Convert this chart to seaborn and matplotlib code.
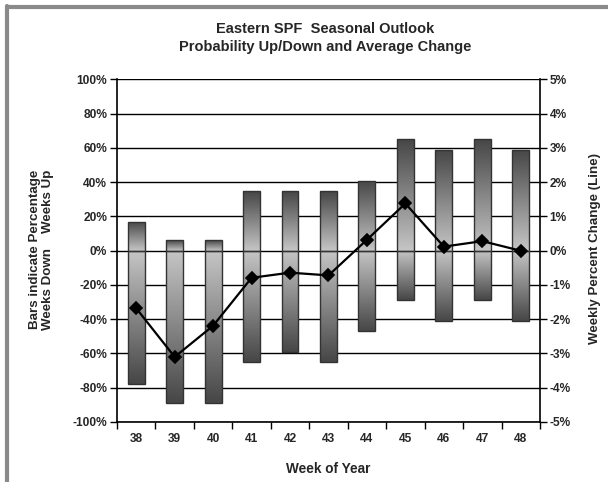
import numpy as np
import pandas as pd
import matplotlib
matplotlib.use("Agg")
import matplotlib.pyplot as plt
from matplotlib.colors import LinearSegmentedColormap
from matplotlib.lines import Line2D
import seaborn as sns

# Seasonal outlook data by week of year
weeks = ["38", "39", "40", "41", "42", "43", "44", "45", "46", "47", "48"]
pct_up = [17, 6, 6, 35, 35, 35, 41, 65, 59, 65, 59]          # % of years the week closed up
pct_down = [78, 89, 89, 65, 59, 65, 47, 29, 41, 29, 41]      # % of years the week closed down
avg_change = [-1.68, -3.10, -2.19, -0.79, -0.64, -0.72, 0.32, 1.38, 0.12, 0.28, 0.0]  # avg weekly % change

left_ticks = [-100, -80, -60, -40, -20, 0, 20, 40, 60, 80, 100]
right_ticks = [-5, -4, -3, -2, -1, 0, 1, 2, 3, 4, 5]

sns.set_theme(style="white")
plt.rcParams["font.family"] = ["Liberation Sans", "DejaVu Sans"]
plt.rcParams["font.weight"] = "bold"

df = pd.DataFrame({"week": weeks, "up": pct_up,
                   "down": [-v for v in pct_down], "chg": avg_change})

fig = plt.figure(figsize=(6.08, 4.82), dpi=100)
ax = fig.add_axes([0.1924, 0.1245, 0.6957, 0.7106])
ax.set_facecolor("white")

# horizontal grid behind bars
for t in left_ticks:
    ax.axhline(t, color="black", lw=1.0, zorder=0)

sns.barplot(data=df, x="week", y="up", ax=ax, width=0.44, color="gray",
            edgecolor="#333333", linewidth=1.0, zorder=2)
sns.barplot(data=df, x="week", y="down", ax=ax, width=0.44, color="gray",
            edgecolor="#333333", linewidth=1.0, zorder=2)

# gradient fill: dark at the bar ends, light at the zero line
dark, light = "#464646", "#c6c6c6"
cmap = LinearSegmentedColormap.from_list("bar", [dark, light])
grad = np.linspace(0, 1, 256).reshape(-1, 1)
for p in ax.patches:
    x0, y0 = p.get_x(), p.get_y()
    w, h = p.get_width(), p.get_height()
    ylo, yhi = min(y0, y0 + h), max(y0, y0 + h)
    if yhi > 0:   # up bar: dark at top -> light at zero
        img = grad
    else:         # down bar: light at zero -> dark at bottom
        img = grad[::-1]
    im = ax.imshow(img, cmap=cmap, aspect="auto", origin="upper",
                   extent=(x0, x0 + w, ylo, yhi), zorder=1.9, vmin=0, vmax=1)
    im.set_clip_path(p)
    p.set_facecolor("none")

ax.set_xlim(-0.5, len(weeks) - 0.5)
ax.set_ylim(-100, 100)
ax.set_yticks(left_ticks)
ax.set_yticklabels([f"{t}%" for t in left_ticks])

# category boundary ticks on the x axis
ax.set_xticks(np.arange(-0.5, len(weeks), 1.0), minor=True)
ax.tick_params(axis="x", which="major", length=0, pad=8, labelsize=8.6)
ax.tick_params(axis="x", which="minor", length=5, width=1, color="black", direction="out", bottom=True)
ax.tick_params(axis="y", length=5, width=1, color="black", direction="out", left=True, labelsize=8.6, pad=2)

for s in ["left", "bottom", "right"]:
    ax.spines[s].set_visible(True)
    ax.spines[s].set_color("black")
    ax.spines[s].set_linewidth(1.2)
ax.spines["top"].set_visible(False)

ax.set_xlabel("Week of Year", fontsize=9.8, fontweight="bold", labelpad=12)
ax.set_ylabel("")

# secondary axis: average weekly percent change
ax2 = ax.twinx()
sns.pointplot(data=df, x="week", y="chg", ax=ax2, color="black", markers="D",
              markersize=6.5, linewidth=1.6, errorbar=None)
ax2.set_xlim(-0.5, len(weeks) - 0.5)
ax2.set_ylim(-5, 5)
ax2.set_yticks(right_ticks)
ax2.set_yticklabels([f"{t}%" for t in right_ticks])
ax2.tick_params(axis="y", length=5, width=1, color="black", direction="out", right=True, labelsize=8.6, pad=2)
ax2.set_ylabel("")
ax2.set_xlabel("")
for s in ["left", "bottom", "right", "top"]:
    ax2.spines[s].set_visible(False)
ax.spines["right"].set_zorder(5)

for lbl in ax.get_xticklabels() + ax.get_yticklabels() + ax2.get_yticklabels():
    lbl.set_fontweight("bold")

# titles and axis captions
fig.text(0.535, 0.921, "Eastern SPF  Seasonal Outlook\nProbability Up/Down and Average Change",
         ha="center", va="center", fontsize=10.5, fontweight="bold", linespacing=1.3)
fig.text(0.0685, 0.482, "Bars indicate Percentage\nWeeks Down    Weeks Up", rotation=90,
         ha="center", va="center", fontsize=9.6, fontweight="bold", linespacing=1.1)
fig.text(0.979, 0.485, "Weekly Percent Change (Line)", rotation=90,
         ha="center", va="center", fontsize=9.6, fontweight="bold")

# outer chart frame
fig.add_artist(Line2D([6.5 / 608, 1.0], [1 - 7 / 482, 1 - 7 / 482], color="#8a8a8a", lw=3,
                      transform=fig.transFigure))
fig.add_artist(Line2D([7 / 608, 7 / 608], [0.0, 1 - 6 / 482], color="#8a8a8a", lw=3,
                      transform=fig.transFigure))

fig.savefig("out.png", dpi=100)
